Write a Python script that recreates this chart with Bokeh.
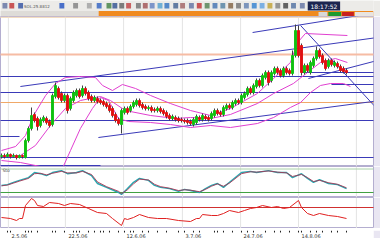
from bokeh.plotting import figure
from bokeh.layouts import column
from bokeh.models import Range1d, ColumnDataSource
from bokeh.embed import file_html
from bokeh.resources import INLINE
from bokeh.core.properties import value

# ---------------- data ----------------
opens = [24,25,24,26,24,25,23,25,23,40,52,66,62,55,60,62,59,56,84,92,87,80,85,72,80,85,90,85,92,88,
         84,80,82,80,79,77,75,72,66,61,56,68,72,70,74,76,80,76,74,72,73,71,70,72,70,68,65,62,63,62,
         61,60,60,59,56,58,63,61,64,63,62,65,70,68,66,72,75,73,77,80,78,83,86,92,88,94,100,95,103,108,
         100,107,112,110,105,112,110,107,125,150,135,108,115,108,115,122,130,125,120,114,120,115,117,114,112,110]
closes = [25,24,26,24,25,23,25,24,40,52,65,60,54,61,63,58,55,85,95,83,80,85,70,82,88,90,84,92,87,82,
          80,83,79,78,76,74,70,65,60,57,70,72,68,74,78,80,75,73,72,73,70,70,72,69,67,64,62,64,61,60,
          60,59,58,57,61,64,61,65,62,61,67,70,67,66,73,75,73,78,80,78,85,87,92,88,95,100,95,105,108,98,
          108,112,108,105,112,108,107,125,150,125,108,115,110,118,122,130,124,118,112,120,116,118,114,110,109,108]
highs = [27,27,28,27,27,26,26,26,42,54,73,68,64,63,65,64,61,87,98,94,89,87,87,84,90,92,92,95,94,90,
         86,85,84,82,81,79,77,74,68,63,72,74,74,76,80,82,82,78,76,75,75,73,74,74,72,70,67,66,65,64,
         63,62,62,61,63,66,65,67,66,65,69,72,72,70,75,77,77,80,82,82,87,89,94,94,97,102,102,107,110,110,
         110,114,114,112,114,114,112,130,156,155,137,117,117,120,124,134,132,127,122,122,122,120,119,116,114,112]
lows = [22,22,23,22,23,21,22,22,22,38,50,58,50,53,58,56,53,54,82,81,78,78,67,70,78,83,82,83,85,80,
        78,78,77,76,74,72,68,63,58,55,47,66,66,68,72,74,73,71,70,70,68,68,68,67,65,62,60,60,59,58,
        58,57,56,55,54,56,59,59,60,59,60,63,65,64,64,70,71,71,75,76,76,81,84,86,86,92,93,93,101,95,
        98,105,106,103,103,106,105,105,123,123,105,106,108,106,113,120,122,116,110,112,114,113,112,108,107,106]

# envelope lines (candle index, price)
upper_x = [0,4.7,8,10.7,14.7,18,21.3,26.3,31.3,33.7,37,40.3,44.7,49.7,56.3,63,69.7,76.3,85.3,90.7,96.3,98.7,101.3,115.3]
upper_y = [30,34,45,65,85,97,103,104,103,95,90,96,92,85,77,70,65,72,87,102,118,138,147,145]
mid_x = [0,6.3,11.3,16.3,21.3,26.3,33,36.3,41.3,49.7,58,63,69.7,76.3,85.3,90.7,97.3,100.7,106.3,111.3,115.3]
mid_y = [24,25,35,55,72,80,84,80,70,65,62,63,62,66,77,87,97,105,118,122,118]
lower_x = [0,6.3,13,20.3,23,26.3,30.3,33,35.7,39,42.3,49.7,56.3,63,69.7,76.3,85.3,90.7,96.3,99.7,103,106.3,109.7,114,116.3]
lower_y = [20,18,14,12,30,52,72,83,80,62,59,58,56,53,55,53,57,63,73,78,88,95,97,97,94]

# trend lines (x0, y0, x1, y1) in (candle index, price)
trend_x0 = [6.3, 83.7, 32.3, 102.3, 99.7]
trend_y0 = [94, 148, 43, 102, 155]
trend_x1 = [125.3, 125.3, 126.3, 125.3, 126.3]
trend_y1 = [143, 168, 80, 120, 68]
# horizontal lines (price, from index, to index)
hline_price = [104, 88, 60, 23, 108, 96, 44, 15]
hline_from = [-1, -1, -1, -1, 100, 110, -1, -1]
hline_to = [130, 130, 130, 130, 130, 130, 6, 33]
orange_price = [126, 78]

# oscillator 1 (two lines)
osc_x = [0,2,4,6,9,11,13,15,17,20,22,25,27,30,32,35,39,40,42,44,46,49,51,53,56,59,61,63,66,68,70,72,74,76,80,83,85,89,92,95,97,100,102,104,106,109,112,115]
osc_a = [38,40,46,51,58,71,68,63,71,76,68,71,76,63,43,33,20,15,30,46,56,51,38,33,30,23,28,25,20,30,38,43,33,46,71,74,71,76,71,71,58,68,56,46,53,43,40,30]
osc_b = [37,39,44,49,56,68,69,65,69,74,70,70,74,66,47,35,23,17,27,42,54,52,41,35,31,25,27,26,22,28,36,42,36,44,68,73,72,75,72,70,61,66,58,48,51,45,41,32]
osc_levels = [80, 20]

# oscillator 2 (momentum)
mom_x = [0,3,5,6,7,8,10,11,12,14,16,19,21,23,26,29,32,35,37,40,41,42,44,46,49,52,55,59,63,65,66,67,70,72,74,76,79,81,83,85,87,90,92,94,96,99,100,102,104,106,109,112,115]
mom_y = [-10,-11,-13,-11,-11,2,9,7,2,1,5,4,2,4,3,-1,-5,-6,-11,-18,-11,-12,-10,-7,-10,-11,-11,-13,-14,-11,-11,-7,-8,-8,-6,-3,-5,-3,-1,0,2,0,1,-1,0,7,0,-6,-8,-6,-8,-9,-11]
mom_level = 0

# time axis
grid_idx = [2.3, 21.3, 40.7, 60.3, 79.7, 99, 118.3]
date_labels = ["2.5.06", "22.5.06", "12.6.06", "3.7.06", "24.7.06", "14.8.06"]
minor_idx = [2,3,8,9,10,12,17,18,21,24,25,26,29,31,33,34,36,39,41,43,44,47,49,52,55,59,61,64,66,71,72,74,77,80,82,84,88,91,93,96,99,100,103,105,107,110,112,115]

# ---------------- helpers ----------------
W = 380
RB = 7
XR = Range1d(-0.33, 124)


def bare(h, xr, yr, fill, border):
    p = figure(width=W, height=h, x_range=xr, y_range=yr,
               output_backend="svg", toolbar_location=None,
               x_axis_location=None, y_axis_location=None,
               min_border_left=0, min_border_right=border, min_border_top=0, min_border_bottom=0)
    p.grid.visible = False
    p.outline_line_color = None
    p.background_fill_color = fill
    p.border_fill_color = "#e9e6f2"
    return p


def pane(h, y0, y1):
    p = bare(h, XR, Range1d(y0, y1), "white", RB)
    p.outline_line_color = "#b4aed0"
    for g in grid_idx:
        p.segment(x0=[g], y0=[y0], x1=[g], y1=[y1], line_color="#e4e4e4", line_width=1)
    return p

# ---------------- header (toolbar / tabs) ----------------
hd = bare(16, Range1d(0, 380), Range1d(16, 0), "#ecebe8", 0)
hd.border_fill_color = "#ecebe8"
hd.quad(left=[0], right=[100], top=[10.5], bottom=[16], fill_color="#dedcd8", line_color=None)
hd.quad(left=[100], right=[380], top=[10.5], bottom=[16], fill_color="#f08a1e", line_color=None)
icon_x = [2, 9, 18, 60, 74, 88, 98, 108, 114, 121, 128, 138, 145, 152, 160, 167, 176, 183, 192, 200, 208, 216, 224, 232, 240, 248, 256, 264, 272, 280, 288, 296, 305]
icon_c = ["#6070a0", "#c03030", "#3050a0", "#2050c0", "#808080", "#a0a0a0", "#3060c0", "#408040", "#305090",
          "#606060", "#c04040", "#707070", "#a05050", "#6080c0", "#50a0d0", "#3070c0", "#406090", "#a06060",
          "#6070a0", "#c03030", "#508050", "#4070b0", "#5080a0", "#806040", "#707070", "#6080b0", "#3080d0",
          "#60a0e0", "#c0a030", "#808080", "#404040", "#5070a0", "#6070a0"]
hd.quad(left=icon_x, right=[x + 5 for x in icon_x], top=[2.5] * len(icon_x), bottom=[8] * len(icon_x),
        fill_color=icon_c, line_color=None, fill_alpha=0.8)
hd.text(x=[24], y=[5.5], text=["SOL.25.8812"], text_font_size="4px", text_color="#555555",
        text_baseline="middle", text_font=value("DejaVu Sans"))
hd.quad(left=[313], right=[346], top=[1], bottom=[10], fill_color="#1c2550", line_color=None)
hd.text(x=[329.5], y=[5.7], text=["18:17:52"], text_font_size="6px", text_color="white",
        text_align="center", text_baseline="middle", text_font=value("DejaVu Sans"))
hd.quad(left=[324, 334, 348], right=[333, 347, 360], top=[11.5] * 3, bottom=[15.5] * 3,
        fill_color=["#d8d8d8", "#1e9a2e", "#c8201e"], line_color=None)
hd.quad(left=[361], right=[380], top=[11.5], bottom=[15.5], fill_color="#e8e4e0", line_color=None)

# ---------------- main price pane ----------------
pm = pane(150, 14, 164)
pm.segment(x0=[-1], y0=[orange_price[0]], x1=[130], y1=[orange_price[0]], line_color="#f6bca4", line_width=2)
pm.segment(x0=[-1], y0=[orange_price[1]], x1=[130], y1=[orange_price[1]], line_color="#f0a868", line_width=1)
pm.segment(x0=[-1], y0=[163.3], x1=[130], y1=[163.3], line_color="#f2dcc0", line_width=1.5)
pm.segment(x0=hline_from, y0=hline_price, x1=hline_to, y1=hline_price, line_color="#3a3ab8", line_width=1)
pm.segment(x0=trend_x0, y0=trend_y0, x1=trend_x1, y1=trend_y1, line_color="#3a3ab8", line_width=1)
for bx, by in ((upper_x, upper_y), (mid_x, mid_y), (lower_x, lower_y)):
    pm.line(bx, by, line_color="#e040d0", line_width=1)

idx = list(range(len(closes)))
up = [c >= o for o, c in zip(opens, closes)]
src = ColumnDataSource(dict(
    x=idx, o=opens, c=closes, h=highs, l=lows,
    top=[max(o, c) for o, c in zip(opens, closes)],
    bot=[min(o, c) for o, c in zip(opens, closes)],
    col=["#10c010" if u else "#e01010" for u in up],
))
pm.segment(x0="x", y0="l", x1="x", y1="h", source=src, line_color="#404040", line_width=1)
pm.vbar(x="x", top="top", bottom="bot", width=0.62, source=src, fill_color="col", line_color="col")

# ---------------- oscillator pane 1 ----------------
p1 = pane(31, 7.2, 86.4)
p1.segment(x0=[-1, -1], y0=osc_levels, x1=[130, 130], y1=osc_levels,
           line_color=["#a8d0a8", "#40a040"], line_width=1)
p1.line(osc_x, osc_a, line_color="#28a8b0", line_width=1.4)
p1.line(osc_x, osc_b, line_color="#a83050", line_width=1, line_alpha=0.85)
p1.text(x=[0.3], y=[83], text=["Sto"], text_font_size="4.5px", text_color="#404040",
        text_baseline="top", text_font=value("DejaVu Sans"))

# ---------------- oscillator pane 2 ----------------
p2 = pane(31, -21, 10)
p2.segment(x0=[-1], y0=[mom_level], x1=[130], y1=[mom_level], line_color="#d03030", line_width=1.2)
p2.line(mom_x, mom_y, line_color="#e02020", line_width=1)

# ---------------- time axis strip ----------------
pt = bare(10, XR, Range1d(10, 0), "white", RB)
pt.segment(x0=minor_idx, y0=[0] * len(minor_idx), x1=minor_idx, y1=[2] * len(minor_idx),
           line_color="#202020", line_width=1)
pt.text(x=[g + 1 for g in grid_idx[:len(date_labels)]], y=[5] * len(date_labels), text=date_labels,
        text_font_size="5px", text_color="#333333", text_baseline="middle", text_font=value("DejaVu Sans"))

# ---------------- scroll strip ----------------
ps = bare(2, Range1d(0, 380), Range1d(2, 0), "#d0cdc8", 0)
ps.border_fill_color = "#d0cdc8"

lay = column(hd, pm, p1, p2, pt, ps, spacing=0)
open("out.html", "w").write(file_html(lay, INLINE))
